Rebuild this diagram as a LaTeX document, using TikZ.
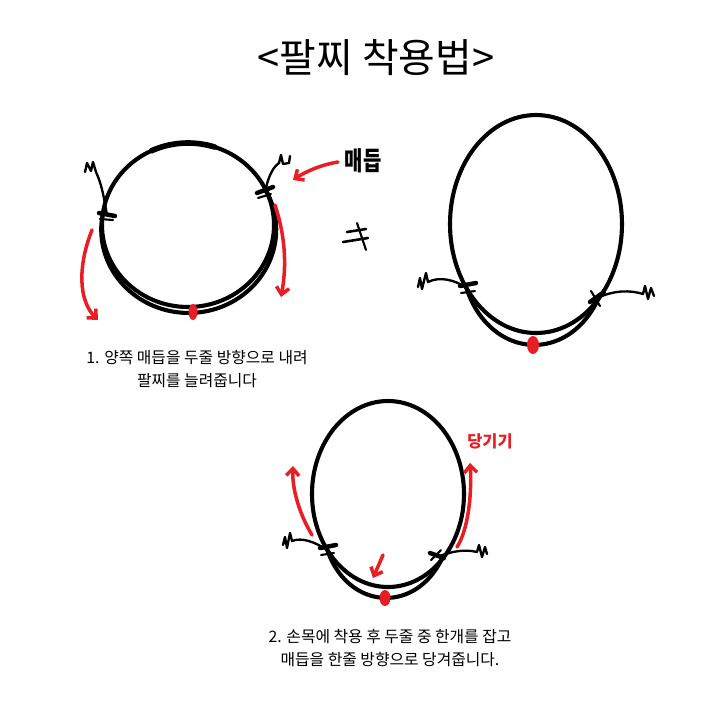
\documentclass[tikz,border=0pt]{standalone}
\usepackage{fontspec}
\setmainfont{Noto Sans CJK KR}
\usetikzlibrary{arrows.meta}
\definecolor{penred}{RGB}{232,30,36}
\begin{document}
\begin{tikzpicture}[x=0.03cm,y=-0.03cm,
  cord/.style={line width=3.5pt, line cap=round, line join=round},
  thickseg/.style={line width=4.8pt, line cap=round},
  tail/.style={line width=2pt, line cap=round, line join=round},
  knotmark/.style={line width=3.8pt, line cap=round},
  knotthin/.style={line width=1.8pt, line cap=round},
  redarrow/.style={penred, line width=3pt, line cap=round, -{Straight Barb[length=6pt,width=11pt]}},
  reddot/.style={fill=penred},
  caption/.style={font=\fontsize{13.5}{19.5}\selectfont, align=center, inner sep=0pt},
  hand/.style={font=\fontsize{17}{20}\selectfont\bfseries, inner sep=0pt},
  ]
\useasboundingbox (0,0) rectangle (720,720);

% ---------- texts ----------
\node[font=\fontsize{34}{38}\selectfont, inner sep=0pt] (title) at (376,58) {<팔찌 착용법>};
\node[caption] (cap1) at (197,369) {1. 양쪽 매듭을 두줄 방향으로 내려\\팔찌를 늘려줍니다};
\node[caption] (cap2) at (390,648) {2. 손목에 착용 후 두줄 중 한개를 잡고\\매듭을 한줄 방향으로 당겨줍니다.};
\node[hand, yscale=1.3] (knotlabel) at (363,161) {매듭};
\node[hand, penred, font=\fontsize{14}{16}\selectfont\bfseries] (pull) at (490,441) {당기기};

% ---------- diagram 1 ----------
\draw[cord] (188,225) ellipse [x radius=86, y radius=82];
\draw[thickseg] plot[domain=245:288, samples=20, smooth] ({188+86*cos(\x)},{225+82*sin(\x)});
\draw[cord] plot[domain=-24:187, samples=80, smooth]
  ({188+(86+6*sin((\x+24)/211*180))*cos(\x)},{225+(82+6*sin((\x+24)/211*180))*sin(\x)});
\coordinate (k1L) at (107,215);
\coordinate (k1R) at (265,192);
\draw[tail] (k1L) .. controls (104,198) and (102,185) .. (96,172) -- (93,162) -- (91,171) -- (87,163) -- (85,172);
\draw[tail] (k1R) .. controls (268,178) and (272,168) .. (279,163) -- (281,155) -- (283,164) -- (289,163) -- (290,156);
\draw[knotmark] (99,213) -- (115,216);
\draw[knotthin] (100,219) -- (113,220);
\draw[knotmark] (257,193) -- (273,187);
\draw[knotthin] (258,198) -- (271,194);
\fill[reddot] (193,312) ellipse [x radius=4.5, y radius=8];
\draw[redarrow] (92,230) .. controls (78,265) and (78,300) .. (98,320);
\draw[redarrow] (275,205) .. controls (285,235) and (287,265) .. (281,297);
\draw[redarrow] (338,162) .. controls (320,165) and (305,172) .. (293,180);

% ---------- not-equal sign ----------
\draw[line width=2.2pt, line cap=round] (347,232) -- (366,229);
\draw[line width=2.2pt, line cap=round] (343,242) -- (368,238);
\draw[line width=1.8pt, line cap=round] (357,223) -- (366,250);

% ---------- diagram 2 ----------
\draw[cord] (536,224) ellipse [x radius=86, y radius=109];
\draw[cord] plot[domain=44:144, samples=60, smooth]
  ({536+(86+12*sin((\x-44)*1.8))*cos(\x)},{224+(109+12*sin((\x-44)*1.8))*sin(\x)});
\coordinate (k2L) at (467,288);
\coordinate (k2R) at (597,298);
\draw[tail] (k2L) .. controls (455,280) and (440,276) .. (428,282) -- (426,273) -- (422,289) -- (420,278) -- (418,287);
\draw[tail] (k2R) .. controls (615,290) and (630,290) .. (643,294) -- (645,286) -- (648,299) -- (651,288) -- (654,296);
\draw[knotmark] (460,286) -- (476,283);
\draw[knotthin] (461,293) -- (475,291);
\draw[knotmark] (590,302) -- (604,292);
\draw[knotthin] (591,291) -- (600,306);
\fill[reddot] (533,345) ellipse [x radius=6, y radius=9];

% ---------- diagram 3 ----------
\draw[cord] (388,494) ellipse [x radius=76, y radius=93];
\draw[cord] plot[domain=46:143, samples=60, smooth]
  ({388+(76+11*sin((\x-46)/97*180))*cos(\x)},{494+(93+11*sin((\x-46)/97*180))*sin(\x)});
\coordinate (k3L) at (327,550);
\coordinate (k3R) at (437,557);
\draw[tail] (k3L) .. controls (315,542) and (302,537) .. (292,541) -- (290,533) -- (287,548) -- (285,537) -- (283,545);
\draw[tail] (k3R) .. controls (452,551) and (465,549) .. (477,552) -- (479,545) -- (482,557) -- (485,547) -- (487,554);
\draw[knotmark] (320,548) -- (336,545);
\draw[knotthin] (321,555) -- (334,553);
\draw[knotmark] (430,553) -- (444,558);
\draw[knotthin] (431,560) -- (441,550);
\fill[reddot] (385,598) ellipse [x radius=5.5, y radius=8];
\draw[redarrow] (312,535) .. controls (300,515) and (292,490) .. (293,466);
\draw[redarrow] (457,547) .. controls (468,530) and (472,495) .. (470,463);
\draw[redarrow] (383,555) -- (373,578);
\end{tikzpicture}
\end{document}
